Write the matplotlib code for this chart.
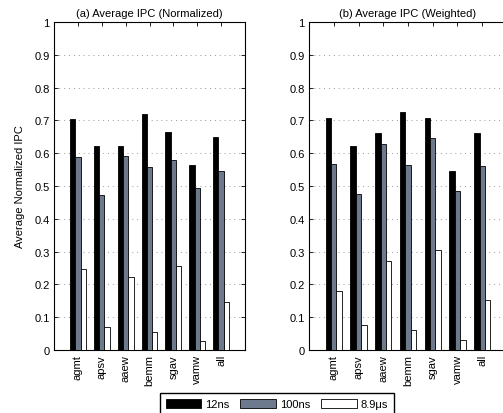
import matplotlib
matplotlib.use("Agg")
import matplotlib.pyplot as plt
import numpy as np

plt.rcParams['font.family'] = ['Liberation Sans', 'DejaVu Sans']

categories = ['agmt', 'apsv', 'aaew', 'bemm', 'sgav', 'vamw', 'all']
series_names = ['12ns', '100ns', '8.9\u03bcs']

norm_12ns = [0.705, 0.623, 0.623, 0.718, 0.666, 0.563, 0.650]
norm_100ns = [0.587, 0.474, 0.590, 0.558, 0.580, 0.495, 0.547]
norm_89us = [0.247, 0.069, 0.223, 0.056, 0.256, 0.028, 0.147]

wt_12ns = [0.706, 0.621, 0.663, 0.727, 0.706, 0.545, 0.663]
wt_100ns = [0.568, 0.476, 0.629, 0.564, 0.646, 0.485, 0.561]
wt_89us = [0.179, 0.075, 0.272, 0.062, 0.305, 0.031, 0.153]

colors = ['#000000', '#6d7a8d', '#ffffff']

W, H = 503, 414
fig = plt.figure(figsize=(W / 100, H / 100), dpi=100)

def px_axes(x0, x1, y0, y1):
    return fig.add_axes([x0 / W, 1 - y1 / H, (x1 - x0) / W, (y1 - y0) / H])

axes = [px_axes(54, 245, 23, 351), px_axes(309, 507, 23, 351)]
titles = ['(a) Average IPC (Normalized)', '(b) Average IPC (Weighted)']
data = [[norm_12ns, norm_100ns, norm_89us], [wt_12ns, wt_100ns, wt_89us]]

FS = 8
x = np.arange(1, len(categories) + 1)
bw = 0.222
handles = []
for ax, title, ds in zip(axes, titles, data):
    ax.set_axisbelow(True)
    hs = []
    for i, (vals, c) in enumerate(zip(ds, colors)):
        h = ax.bar(x + (i - 1) * bw, vals, width=bw, color=c, edgecolor='black',
                   linewidth=0.6, label=series_names[i], zorder=3)
        hs.append(h)
    handles = hs
    ax.set_xlim(0, 8)
    ax.set_ylim(0, 1)
    ax.set_yticks(np.arange(0, 1.01, 0.1))
    ax.set_yticklabels(['0'] + [f'{v:.1f}' for v in np.arange(0.1, 0.95, 0.1)] + ['1'])
    ax.set_xticks(x)
    ax.set_xticklabels(categories, rotation=90, va='top', ha='center')
    ax.yaxis.grid(True, linestyle=(0, (1, 4)), color='#999999', linewidth=0.7)
    ax.tick_params(direction='in', length=3, width=0.6, labelsize=FS, pad=3,
                   top=True, right=True, colors='black')
    for s in ax.spines.values():
        s.set_linewidth(0.8)
    ax.set_title(title, fontsize=FS, pad=4)

axes[0].set_ylabel('Average Normalized IPC', fontsize=FS, labelpad=7)

fig.legend(handles, series_names, loc='lower left',
           bbox_to_anchor=(160 / W, 1 - 416 / H), ncol=3, fontsize=FS,
           frameon=True, fancybox=False, edgecolor='black', framealpha=1,
           handlelength=3.2, handleheight=0.9, handletextpad=0.35,
           columnspacing=1.0, borderpad=0.5, borderaxespad=0)

fig.savefig('out.png', dpi=100)
